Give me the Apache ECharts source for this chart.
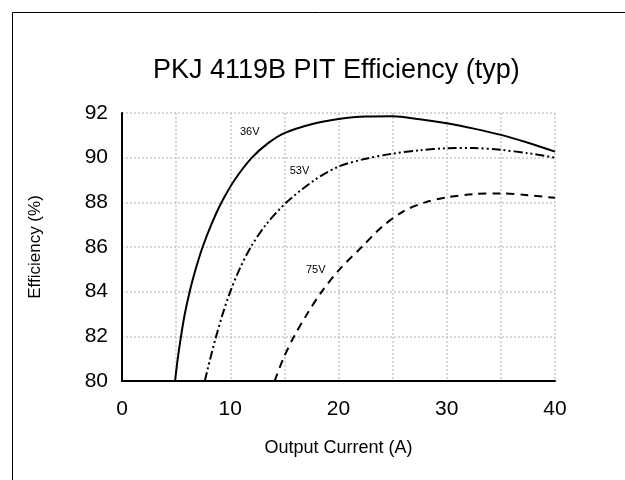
<!DOCTYPE html>
<html>
<head>
<meta charset="utf-8">
<script src="https://cdn.jsdelivr.net/npm/echarts@6/dist/echarts.min.js"></script>
<style>
html,body{margin:0;padding:0;background:#fff;}
#chart{width:625px;height:480px;}
</style>
</head>
<body>
<div id="chart"></div>
<script>
var titleText = 'PKJ 4119B PIT Efficiency (typ)';
var xName = 'Output Current (A)';
var yName = 'Efficiency (%)';
var xTicks = [0, 10, 20, 30, 40];
var yTicks = [80, 82, 84, 86, 88, 90, 92];

var v36 = [[4.9,80],[5.15,81],[5.45,82],[5.8,83],[6.25,84],[6.8,85],[7.45,86],[8.25,87],[9.2,88],[10.4,89],[12,90],[13.5,90.65],[15,91.1],[17.5,91.5],[20,91.73],[22.5,91.84],[25,91.85],[27.5,91.72],[30,91.54],[32.5,91.3],[35,91.02],[37.5,90.67],[40,90.27]];
var v53 = [[7.65,80],[8.15,81],[8.7,82],[9.3,83],[10.0,84],[10.85,85],[11.9,86],[13.3,87],[15.2,88],[17.8,89],[20,89.6],[22.5,89.95],[25,90.18],[27.5,90.33],[30,90.42],[32.5,90.43],[35,90.35],[37.5,90.2],[40,90.0]];
var v75 = [[14.1,80],[14.9,81],[15.9,82],[17.1,83],[18.45,84],[20.1,85],[22.15,86],[24,86.9],[26,87.6],[28,88.0],[30,88.22],[32.5,88.37],[35,88.4],[37.5,88.32],[40,88.2]];
var seriesNames = ['36V', '53V', '75V'];
var labelPos = [[11.8,91.15],[16.4,89.4],[17.9,84.97]];

var chart = echarts.init(document.getElementById('chart'), null, {renderer:'canvas'});
var FONT = 'Liberation Sans, Arial, sans-serif';
function mk(name, data, type, lp){
  return {
    name: name, type: 'line', data: data, smooth: 0.3, symbol: 'none',
    lineStyle: {color:'#000', width:2, type: type},
    markPoint: {
      symbol: 'circle', symbolSize: 0,
      label: {show:true, formatter: name, color:'#000', fontFamily: FONT, fontSize: 11, position:'inside'},
      data: [{coord: lp}]
    },
    z: 3
  };
}
chart.setOption({
  animation: false,
  title: {text: titleText, left: 148, top: 52, textStyle:{fontFamily:FONT, fontSize:27, fontWeight:'normal', color:'#000'}},
  graphic: [{type:'rect', left:10, top:10, shape:{width:640, height:500}, style:{fill:'none', stroke:'#000', lineWidth:1}}],
  grid: {left:122, right:70, top:113, bottom:99},
  xAxis: {
    type:'value', min:0, max:40, interval:5,
    name: xName, nameLocation:'middle', nameGap: 58,
    nameTextStyle:{fontFamily:FONT, fontSize:18, color:'#000'},
    axisLine:{show:true, lineStyle:{color:'#000', width:2}},
    axisTick:{show:false},
    axisLabel:{fontFamily:FONT, fontSize:21, color:'#000', margin:18,
      formatter:function(v){ return xTicks.indexOf(v) >= 0 ? String(v) : ''; }},
    splitLine:{show:true, lineStyle:{color:'#c8c8c8', width:1.5, type:[2,2]}}
  },
  yAxis: {
    type:'value', min:80, max:92, interval:2,
    name: yName, nameLocation:'middle', nameGap: 78,
    nameTextStyle:{fontFamily:FONT, fontSize:17, color:'#000'},
    axisLine:{show:true, lineStyle:{color:'#000', width:2}},
    axisTick:{show:false},
    axisLabel:{fontFamily:FONT, fontSize:21, color:'#000', margin:14,
      formatter:function(v){ return yTicks.indexOf(v) >= 0 ? String(v) : ''; }},
    splitLine:{show:true, lineStyle:{color:'#c8c8c8', width:1.5, type:[2,2]}}
  },
  series: [
    mk(seriesNames[0], v36, 'solid', labelPos[0]),
    mk(seriesNames[1], v53, [9,3,2,3,2,3], labelPos[1]),
    mk(seriesNames[2], v75, [8,6], labelPos[2])
  ]
});
</script>
</body>
</html>
